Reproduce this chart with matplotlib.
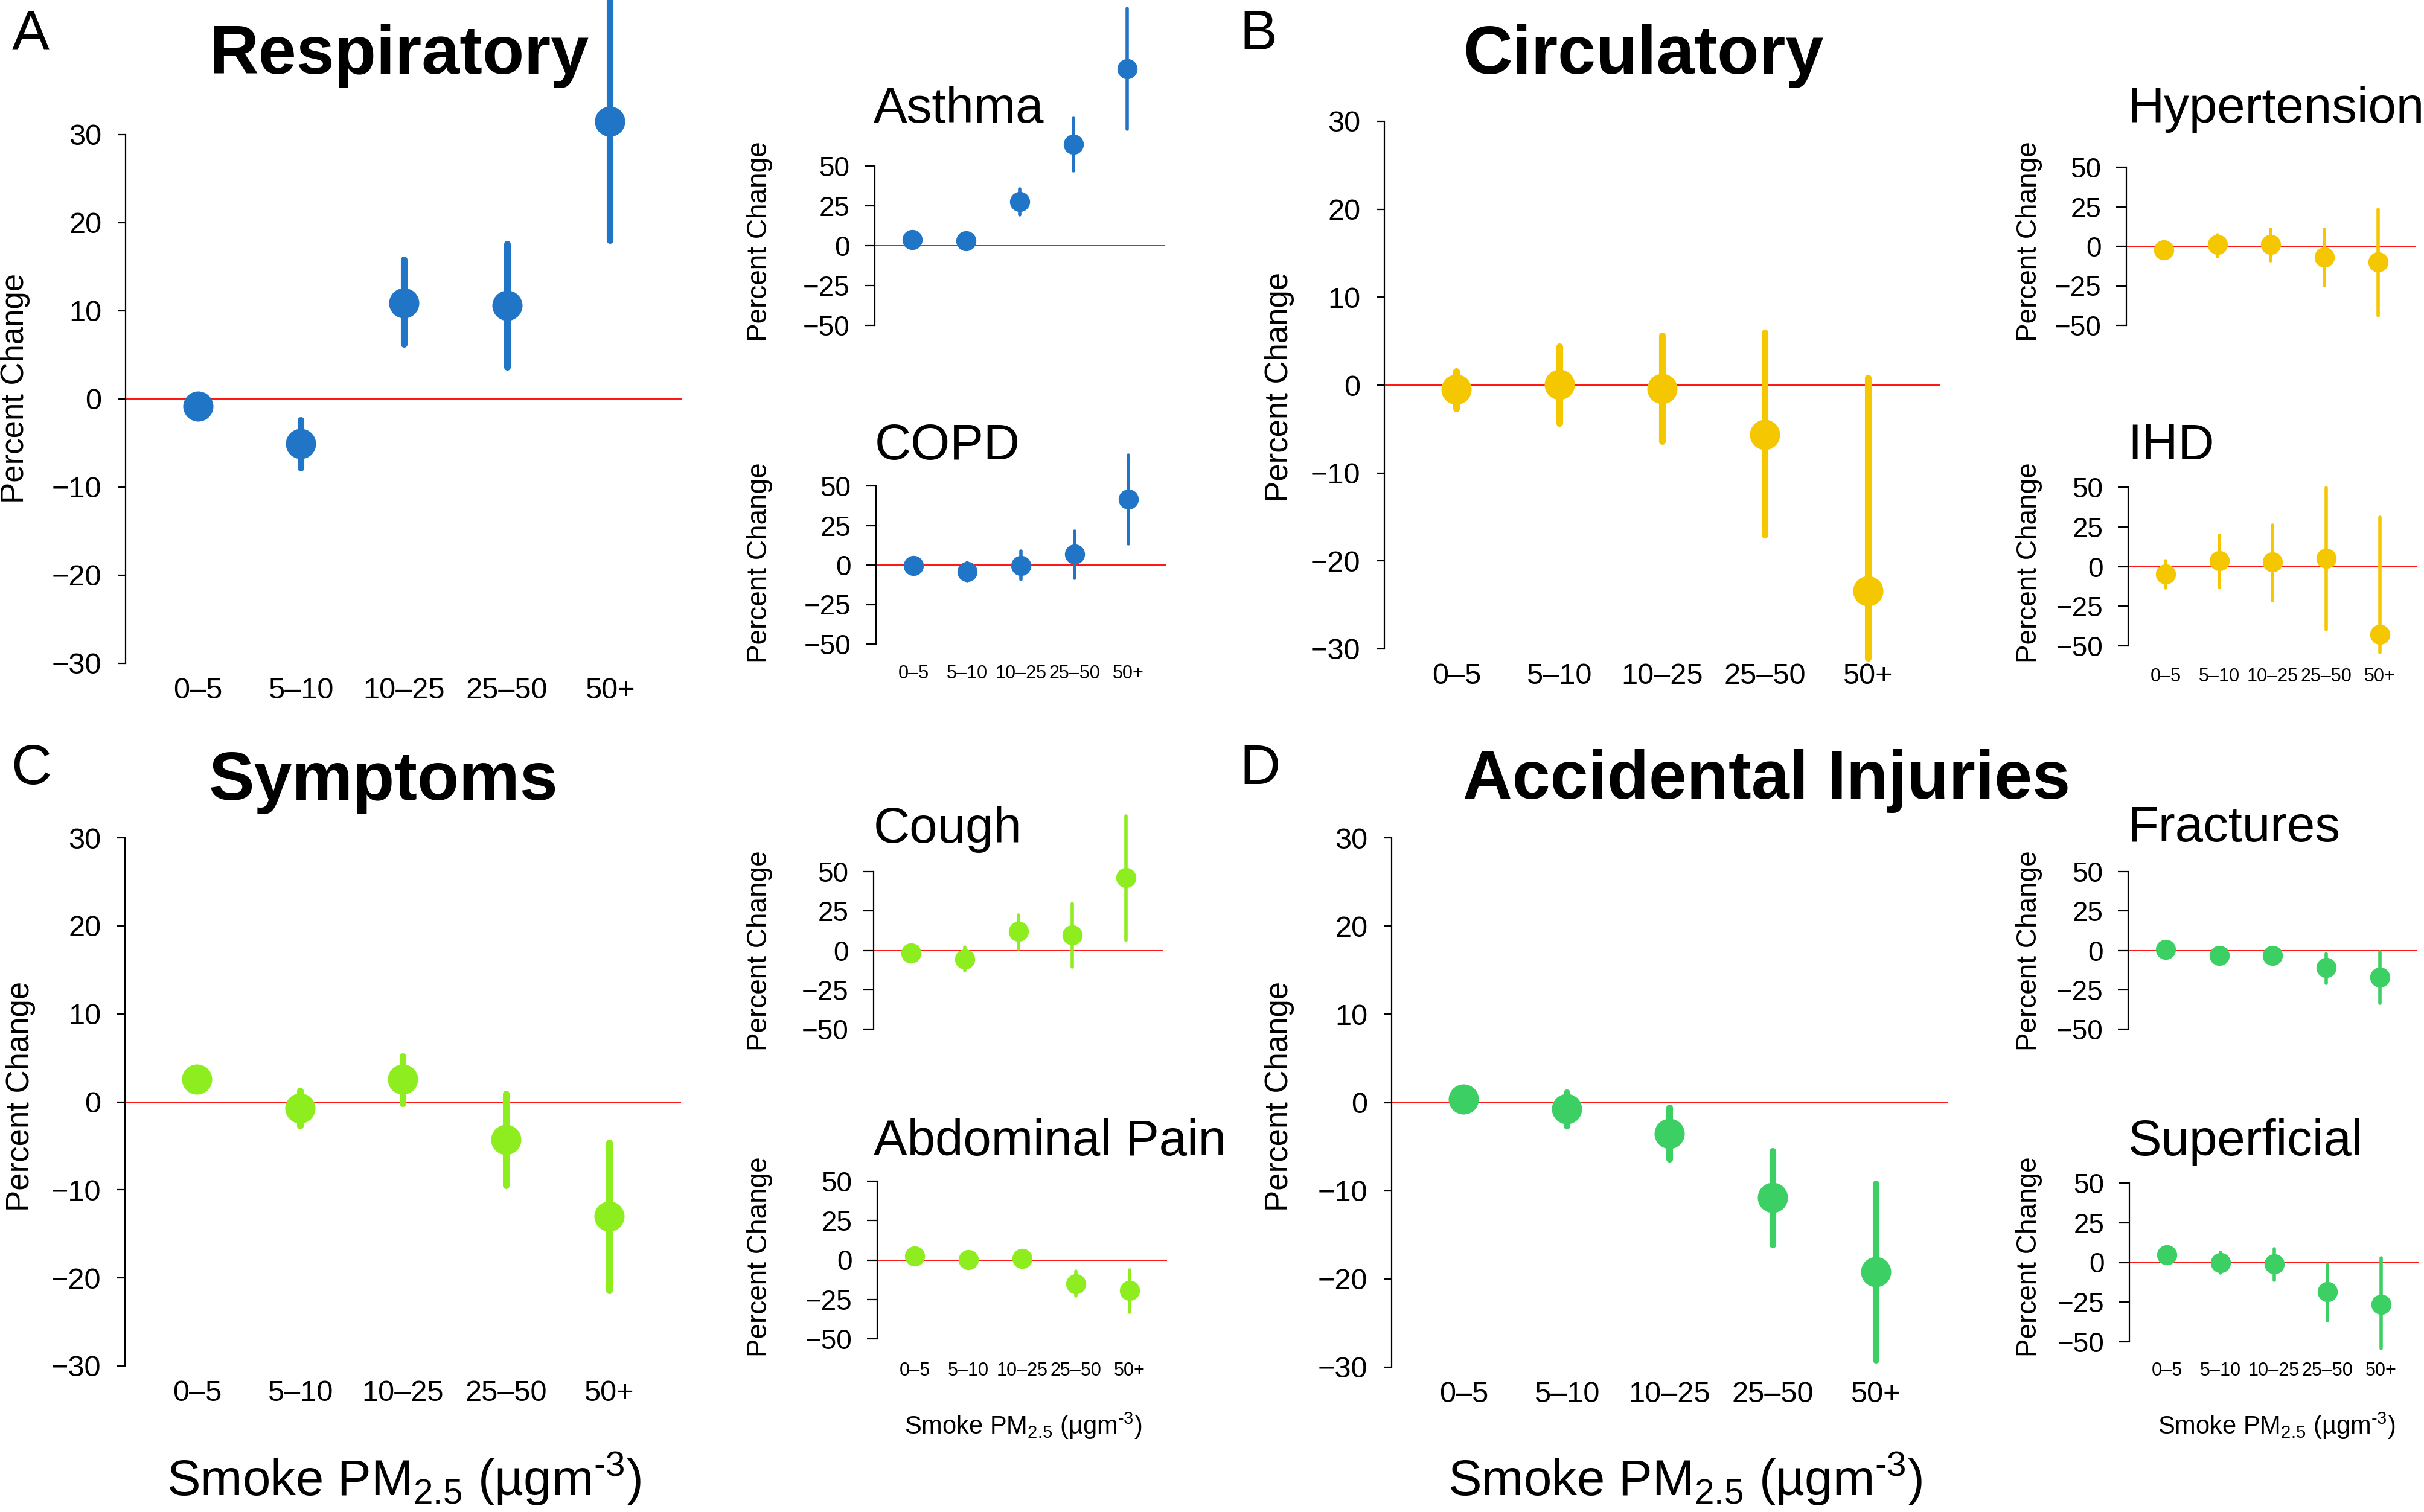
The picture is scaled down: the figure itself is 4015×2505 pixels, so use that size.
import numpy as np
import matplotlib
matplotlib.use("Agg")
import matplotlib.pyplot as plt

# categories of smoke PM2.5 (ug/m3)
categories = ["0–5", "5–10", "10–25", "25–50", "50+"]

# main panels: estimate, lower and upper bound (percent change)
resp_est = [-0.8, -5.1, 10.9, 10.6, 31.5]
resp_lo = [-1.6, -7.8, 6.2, 3.6, 18.0]
resp_hi = [0.0, -2.4, 15.8, 17.6, 45.5]

circ_est = [-0.5, 0.1, -0.4, -5.6, -23.4]
circ_lo = [-2.7, -4.3, -6.4, -17.0, -31.0]
circ_hi = [1.6, 4.4, 5.6, 6.0, 0.8]

symp_est = [2.6, -0.7, 2.6, -4.3, -13.0]
symp_lo = [1.8, -2.7, -0.2, -9.5, -21.4]
symp_hi = [3.4, 1.3, 5.2, 0.9, -4.6]

inj_est = [0.4, -0.7, -3.5, -10.8, -19.2]
inj_lo = [-0.4, -2.6, -6.4, -16.1, -29.2]
inj_hi = [1.2, 1.15, -0.6, -5.5, -9.2]

# small panels
asthma_est = [3.8, 2.9, 27.6, 63.7, 111.0]
asthma_lo = [1.5, 0.5, 19.5, 47.0, 73.0]
asthma_hi = [6.0, 5.5, 35.5, 80.0, 149.0]

copd_est = [-0.3, -4.1, -0.3, 6.7, 41.7]
copd_lo = [-3.0, -10.2, -9.3, -8.5, 13.4]
copd_hi = [2.5, 1.5, 8.7, 21.3, 69.4]

hyper_est = [-2.2, 1.0, 1.0, -6.9, -10.1]
hyper_lo = [-5.0, -6.3, -9.2, -24.9, -43.9]
hyper_hi = [0.5, 7.4, 10.6, 10.6, 23.2]

ihd_est = [-4.7, 3.5, 2.9, 5.0, -42.6]
ihd_lo = [-13.4, -13.1, -21.3, -39.7, -54.2]
ihd_hi = [3.5, 19.5, 25.9, 49.6, 30.9]

cough_est = [-1.6, -5.4, 12.1, 9.6, 46.2]
cough_lo = [-4.0, -12.7, 1.0, -10.5, 6.4]
cough_hi = [1.0, 2.2, 22.3, 29.6, 85.4]

abd_est = [2.5, 0.3, 1.0, -15.0, -19.4]
abd_lo = [0.0, -2.0, -1.5, -22.9, -33.1]
abd_hi = [5.0, 2.5, 3.5, -7.0, -6.4]

fract_est = [0.6, -3.2, -3.2, -11.1, -16.9]
fract_lo = [-2.0, -5.5, -5.5, -20.7, -33.4]
fract_hi = [3.0, -1.0, -1.0, -2.2, -1.0]

superf_est = [4.7, -0.3, -0.9, -18.4, -26.3]
superf_lo = [2.0, -6.6, -11.1, -36.7, -54.1]
superf_hi = [7.0, 6.3, 8.5, -0.9, 2.8]

BLUE = "#2175c7"
YELLOW = "#f4c700"
LIME = "#8eed1f"
GREEN = "#3bcf64"

W, H = 4016, 2505
plt.rcParams["font.family"] = ["Liberation Sans", "DejaVu Sans"]

fig = plt.figure(figsize=(W / 100, H / 100), dpi=100)


def fx(x):
    return x / W


def fy(y):
    return 1 - y / H


#make an axes from pixel positions of the y axis ends
def make_axes(x0, x1, ytop_px, ybot_px, ymax):
    ext = 0.04 * (ybot_px - ytop_px)
    top = ytop_px - ext
    bot = ybot_px + ext
    ax = fig.add_axes([fx(x0), fy(bot), (x1 - x0) / W, (bot - top) / H])
    ax.set_xlim(0.3, 5.7)
    ax.set_ylim(-1.08 * ymax, 1.08 * ymax)
    ax.patch.set_visible(False)
    for s in ["top", "right", "bottom"]:
        ax.spines[s].set_visible(False)
    ax.spines["left"].set_bounds(-ymax, ymax)
    ax.spines["left"].set_linewidth(1.6)
    return ax


def draw(ax, est, lo, hi, color, ms, lw):
    x = np.arange(1, 6)
    ax.axhline(0, color="red", lw=1.3, zorder=1)
    ax.vlines(x, lo, hi, color=color, lw=lw, capstyle="round",
              clip_on=False, zorder=2)
    ax.plot(x, est, "o", ms=ms, color=color, mec=color, clip_on=False, zorder=3)


def main_panel(x0, x1, ytop, ybot, est, lo, hi, color):
    ax = make_axes(x0, x1, ytop, ybot, 30)
    draw(ax, est, lo, hi, color, 35, 8)
    ax.set_yticks([-30, -20, -10, 0, 10, 20, 30])
    ax.tick_params(axis="y", length=9.4, width=1.6, pad=19, labelsize=35)
    ax.set_xticks(np.arange(1, 6), categories)
    ax.tick_params(axis="x", length=0, pad=-8.5, labelsize=35)
    return ax


def small_panel(x0, x1, ytop, ybot, est, lo, hi, color, xlabels=False, xpad=18):
    ax = make_axes(x0, x1, ytop, ybot, 50)
    draw(ax, est, lo, hi, color, 23, 4)
    ax.set_yticks([-50, -25, 0, 25, 50])
    ax.tick_params(axis="y", length=12, width=1.6, pad=18, labelsize=33)
    if xlabels:
        ax.set_xticks(np.arange(1, 6), categories)
        ax.tick_params(axis="x", length=0, pad=xpad, labelsize=22)
    else:
        ax.set_xticks([])
    return ax


#Main panels
main_panel(208, 1130, 223, 1099, resp_est, resp_lo, resp_hi, BLUE)
main_panel(2293, 3213, 201, 1075, circ_est, circ_lo, circ_hi, YELLOW)
main_panel(207, 1128, 1388, 2263, symp_est, symp_lo, symp_hi, LIME)
main_panel(2305, 3226, 1388, 2265, inj_est, inj_lo, inj_hi, GREEN)

#Small panels
small_panel(1449, 1929, 275, 539, asthma_est, asthma_lo, asthma_hi, BLUE)
small_panel(1451, 1931, 805, 1067, copd_est, copd_lo, copd_hi, BLUE, True, 17)
small_panel(3522, 4001, 277, 539, hyper_est, hyper_lo, hyper_hi, YELLOW)
small_panel(3525, 4004, 807, 1070, ihd_est, ihd_lo, ihd_hi, YELLOW, True, 18)
small_panel(1447, 1927, 1444, 1705, cough_est, cough_lo, cough_hi, LIME)
small_panel(1453, 1933, 1957, 2218, abd_est, abd_lo, abd_hi, LIME, True, 20)
small_panel(3525, 4004, 1444, 1705, fract_est, fract_lo, fract_hi, GREEN)
small_panel(3527, 4006, 1960, 2223, superf_est, superf_lo, superf_hi, GREEN, True, 16)

#Panel letters and titles
for letter, x, y in [("A", 51, 58), ("B", 2084, 58), ("C", 52, 1275), ("D", 2087, 1275)]:
    fig.text(fx(x), fy(y), letter, fontsize=67, ha="center", va="center")

for title, x, y in [("Respiratory", 346, 122), ("Circulatory", 2423, 122),
                    ("Symptoms", 346, 1325), ("Accidental Injuries", 2423, 1323)]:
    fig.text(fx(x), fy(y), title, fontsize=81.5, fontweight="bold",
             ha="left", va="baseline")

for title, x, y in [("Asthma", 1447, 203), ("COPD", 1449, 761),
                    ("Hypertension", 3524, 203), ("IHD", 3524, 761),
                    ("Cough", 1447, 1396), ("Abdominal Pain", 1447, 1914),
                    ("Fractures", 3524, 1394), ("Superficial", 3524, 1914)]:
    fig.text(fx(x), fy(y), title, fontsize=60, ha="left", va="baseline")

#Y labels
for x, y in [(25, 643), (2119, 641), (34, 1816), (2119, 1816)]:
    fig.text(fx(x), fy(y), "Percent Change", fontsize=38, rotation=90,
             ha="center", va="center")
for x, y in [(1258, 400), (1258, 932), (3361, 400), (3361, 932),
             (1258, 1575), (1258, 2082), (3361, 1575), (3361, 2082)]:
    fig.text(fx(x), fy(y), "Percent Change", fontsize=33, rotation=90,
             ha="center", va="center")

#X labels (hyphen in the superscript, as in the original)
xlab = "Smoke PM$_{\\mathregular{2.5}}$ (µgm$^{\\mathregular{\u2010 3}}$)".replace("\u2010 ", "\u2010")
fig.text(fx(669), fy(2450), xlab, fontsize=60, ha="center", va="center")
fig.text(fx(2791), fy(2450), xlab, fontsize=60, ha="center", va="center")
fig.text(fx(1695), fy(2362), xlab, fontsize=30, ha="center", va="center")
fig.text(fx(3771), fy(2362), xlab, fontsize=30, ha="center", va="center")

fig.savefig("out.png", dpi=100)
